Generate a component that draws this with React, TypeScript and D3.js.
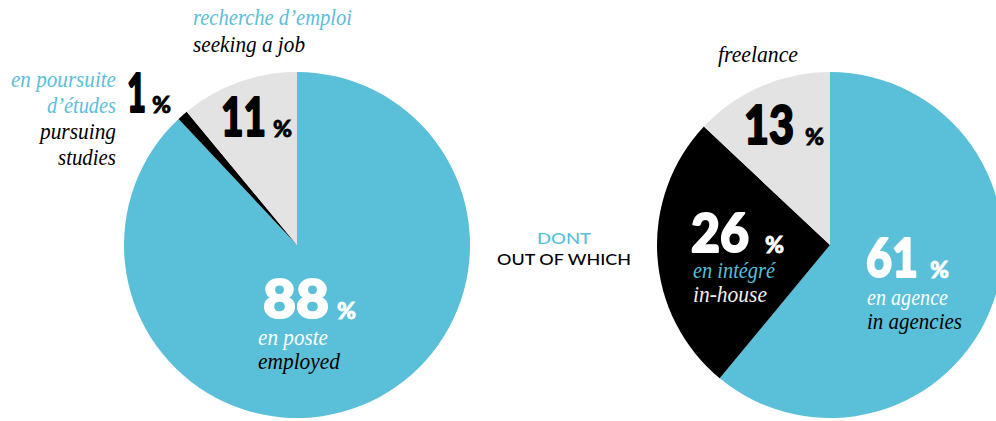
import { useEffect, useRef } from 'react';
import { arc, pie, select } from 'd3';

// situation des diplômés
const situationKeys = ['employed', 'studies', 'seeking'];
const situationValues = [88, 1, 11];
// répartition des diplômés en poste
const jobKeys = ['agency', 'inhouse', 'freelance'];
const jobValues = [61, 26, 13];

const BLUE = '#5abfd8';
const GREY = '#e3e3e3';
const BLACK = '#000';

const NUM_FONT = 'Lato, "Open Sans", sans-serif';
const SERIF = "'Liberation Serif', 'DejaVu Serif', serif";

export default function App() {
  const svgRef = useRef<SVGSVGElement>(null);

  useEffect(() => {
    const width = 996;
    const height = 421;
    const radius = 173;

    const svg = select(svgRef.current);
    svg.selectAll('*').remove();
    svg.attr('width', width).attr('height', height);

    const layout = pie<number>().sort(null).value((d) => d);
    const slice = arc<any>().innerRadius(0).outerRadius(radius);

    const drawPie = (cx: number, cy: number, values: number[], keys: string[], colors: string[]) => {
      const g = svg.append('g').attr('transform', `translate(${cx},${cy})`);
      g.selectAll('path')
        .data(layout(values))
        .enter()
        .append('path')
        .attr('class', (_, i) => `slice-${keys[i]}`)
        .attr('d', slice)
        .attr('fill', (_, i) => colors[i]);
    };

    drawPie(297, 245, situationValues, situationKeys, [BLUE, BLACK, GREY]);
    drawPie(830, 245, jobValues, jobKeys, [BLUE, BLACK, GREY]);

    // gros chiffres + % (un léger contour pour épaissir le trait)
    const bigNumber = (x: number, y: number, value: number, w: number, pctX: number, color: string) => {
      svg
        .append('text')
        .attr('x', x + 1)
        .attr('y', y - 1)
        .style('font-family', NUM_FONT)
        .style('font-weight', 900)
        .style('font-size', '53px')
        .attr('textLength', w - 2)
        .attr('lengthAdjust', 'spacingAndGlyphs')
        .attr('fill', color)
        .attr('stroke', color)
        .attr('stroke-width', 2)
        .attr('stroke-linejoin', 'round')
        .text(String(value));
      svg
        .append('text')
        .attr('x', pctX)
        .attr('y', y)
        .style('font-family', NUM_FONT)
        .style('font-weight', 900)
        .style('font-size', '23px')
        .attr('fill', color)
        .attr('stroke', color)
        .attr('stroke-width', 0.8)
        .text('%');
    };

    const label = (x: number, y: number, txt: string, w: number, color: string, anchor = 'start') => {
      svg
        .append('text')
        .attr('x', x)
        .attr('y', y)
        .style('font-family', SERIF)
        .style('font-style', 'italic')
        .style('font-size', '23px')
        .attr('text-anchor', anchor)
        .attr('textLength', w)
        .attr('lengthAdjust', 'spacingAndGlyphs')
        .attr('fill', color)
        .text(txt);
    };

    // camembert de gauche
    bigNumber(262, 319, situationValues[0], 68, 337, '#fff');
    label(258, 345, 'en poste', 70, '#fff');
    label(258, 369, 'employed', 82, BLACK);

    bigNumber(126, 113, situationValues[1], 21, 152, BLACK);
    label(116, 87, 'en poursuite', 105, BLUE, 'end');
    label(116, 113, 'd’études', 69, BLUE, 'end');
    label(116, 139, 'pursuing', 76, BLACK, 'end');
    label(116, 165, 'studies', 58, BLACK, 'end');

    bigNumber(220, 137, situationValues[2], 47, 273, BLACK);
    label(193, 25, 'recherche d’emploi', 159, BLUE);
    label(193, 52, 'seeking a job', 112, BLACK);

    // DONT / OUT OF WHICH
    svg
      .append('text')
      .attr('x', 564)
      .attr('y', 244)
      .attr('text-anchor', 'middle')
      .style('font-family', NUM_FONT)
      .style('font-weight', 500)
      .style('font-size', '16px')
      .attr('textLength', 54)
      .attr('lengthAdjust', 'spacingAndGlyphs')
      .attr('fill', BLUE)
      .text('DONT');
    svg
      .append('text')
      .attr('x', 564)
      .attr('y', 265)
      .attr('text-anchor', 'middle')
      .style('font-family', NUM_FONT)
      .style('font-weight', 500)
      .style('font-size', '16px')
      .attr('textLength', 134)
      .attr('lengthAdjust', 'spacingAndGlyphs')
      .attr('fill', BLACK)
      .text('OUT OF WHICH');

    // camembert de droite
    bigNumber(865, 278, jobValues[0], 54, 930, '#fff');
    label(867, 305, 'en agence', 81, '#fff');
    label(867, 329, 'in agencies', 95, BLACK);

    bigNumber(690, 253, jobValues[1], 60, 765, '#fff');
    label(693, 278, 'en intégré', 82, BLUE);
    label(693, 302, 'in-house', 74, '#eee');

    bigNumber(743, 145, jobValues[2], 52, 805, BLACK);
    label(758, 62, 'freelance', 80, BLACK, 'middle');
  }, []);

  return (
    <div style={{ position: 'absolute', left: 0, top: 0 }}>
      <svg ref={svgRef}></svg>
    </div>
  );
}
